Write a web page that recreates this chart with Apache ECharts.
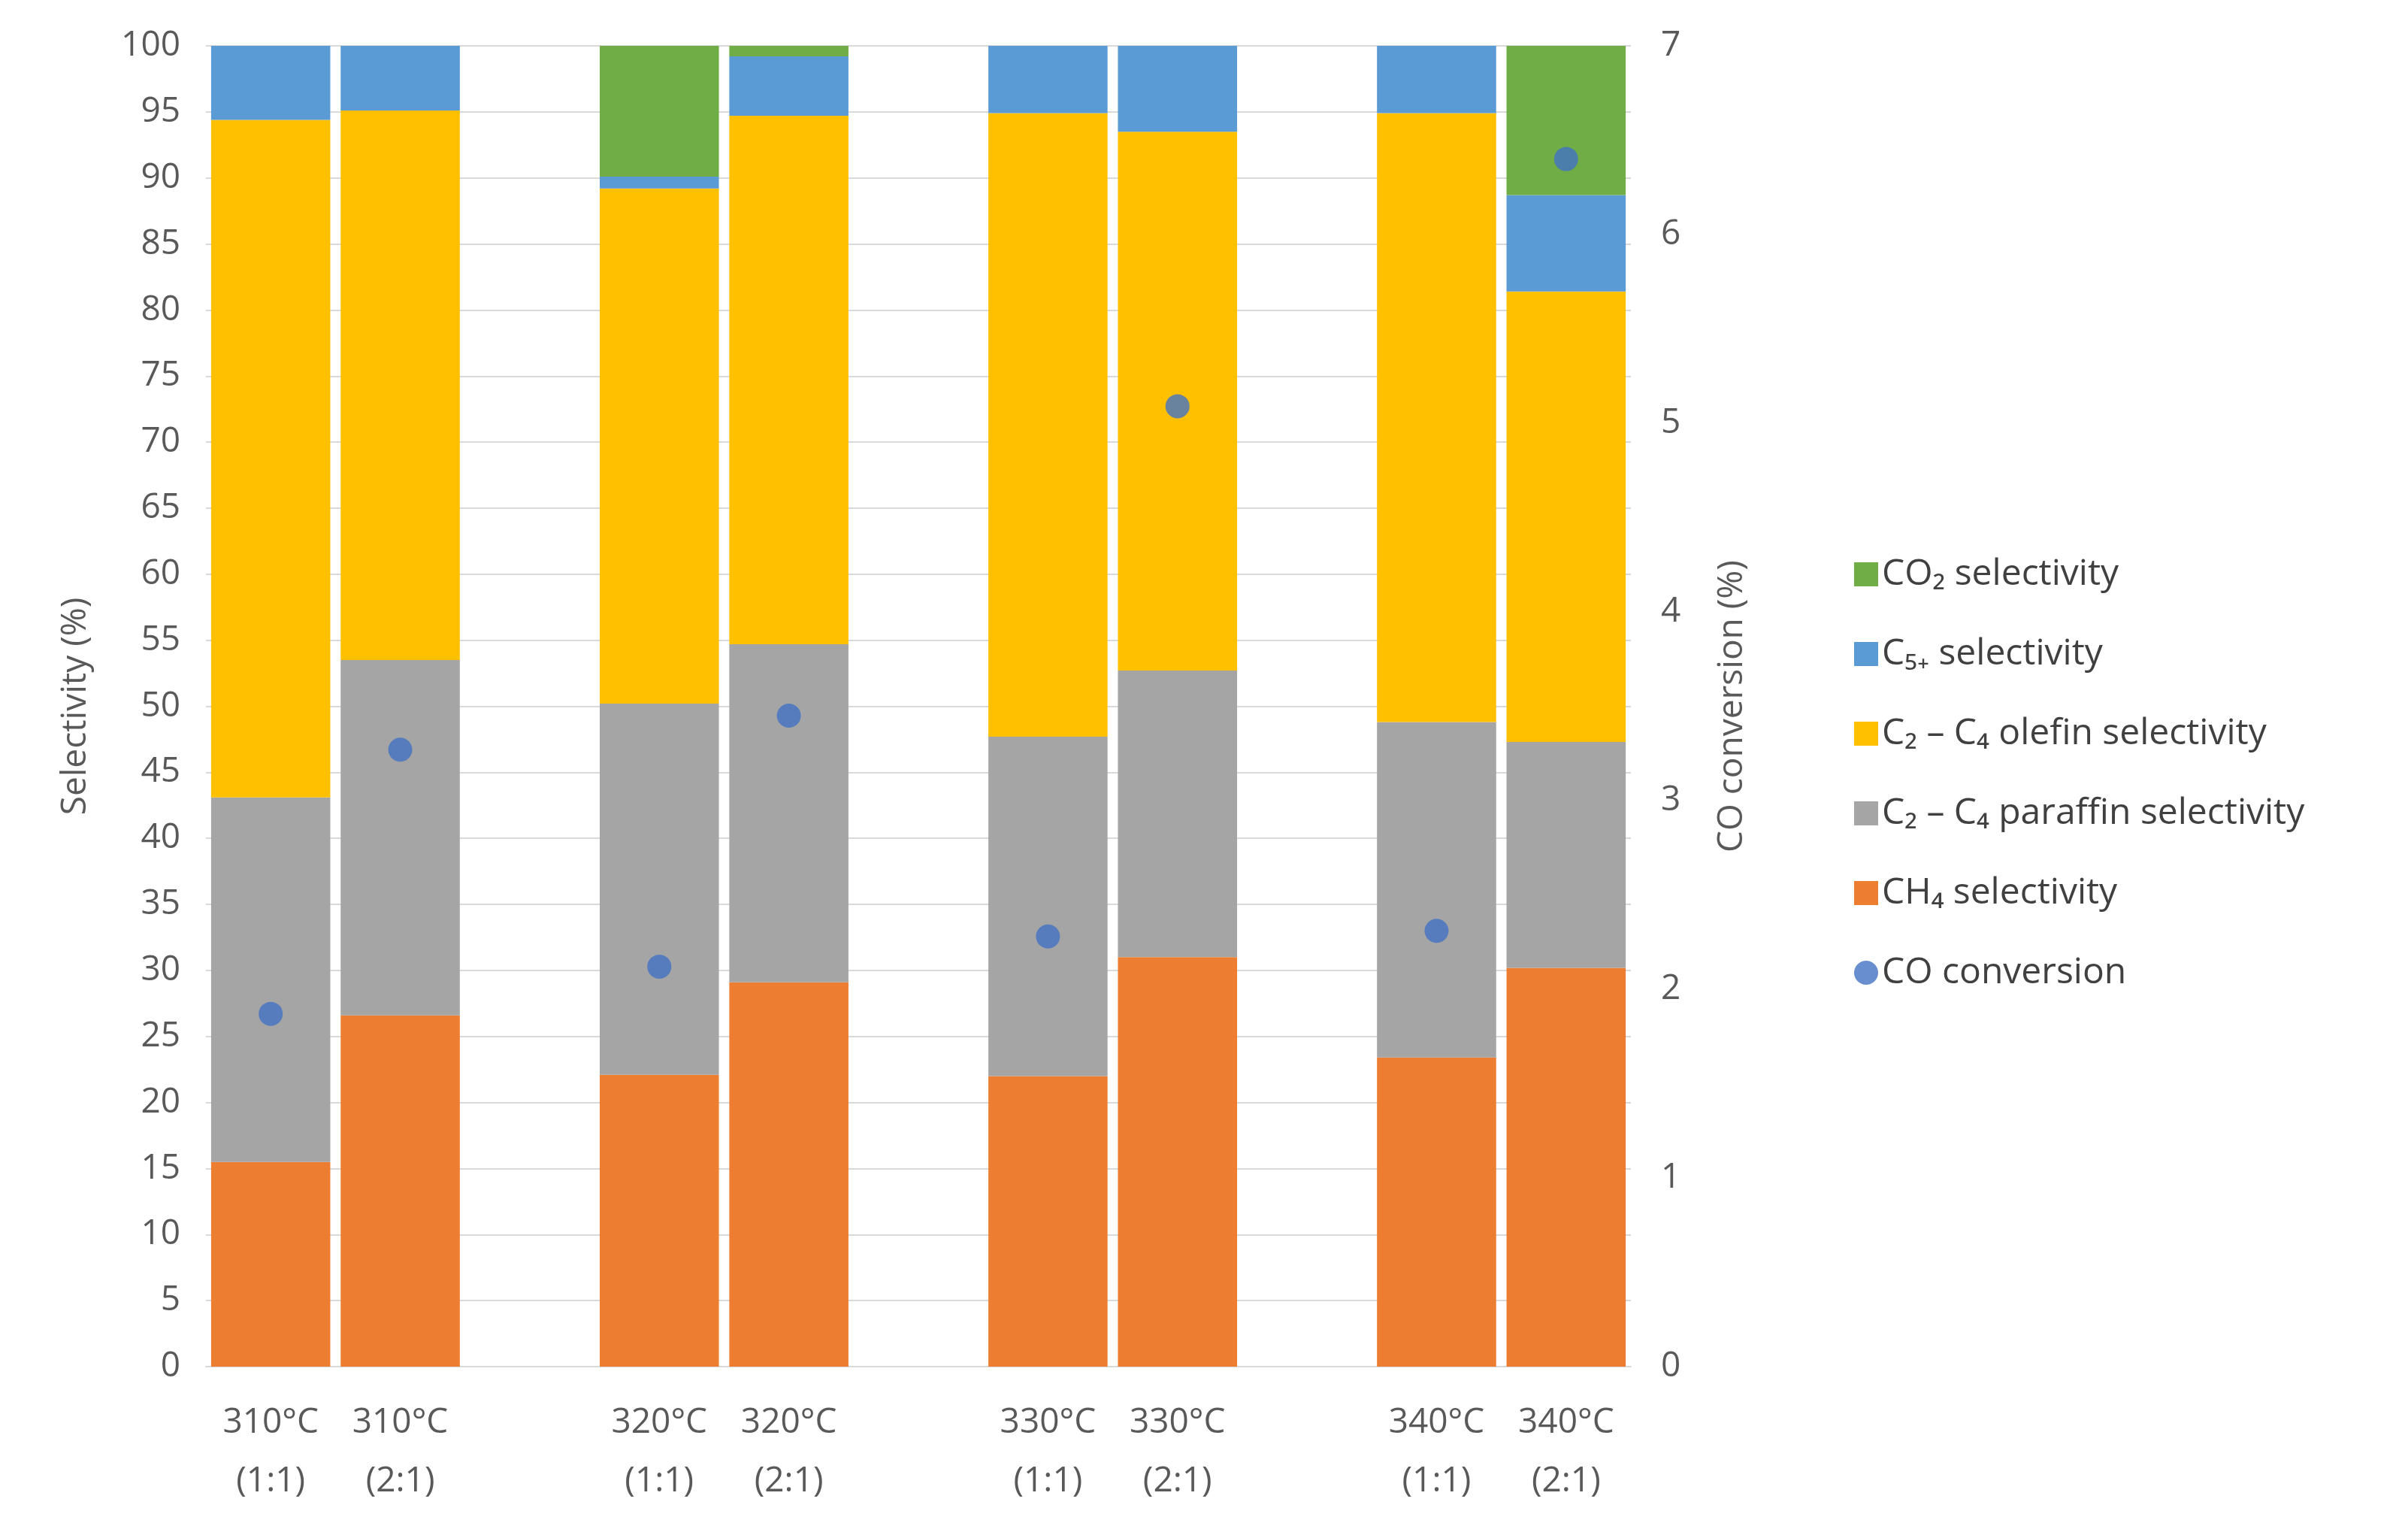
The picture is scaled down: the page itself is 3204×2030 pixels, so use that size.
<!DOCTYPE html>
<html>
<head>
<meta charset="utf-8">
<script src="https://cdn.jsdelivr.net/npm/echarts@6/dist/echarts.min.js"></script>
<style>html,body{margin:0;padding:0;background:#fff}#main{width:3204px;height:2030px}</style>
</head>
<body>
<div id="main"></div>
<script>
// categories, empty strings are the gaps between temperature groups
var categories = ['310°C\n(1:1)', '310°C\n(2:1)', '', '320°C\n(1:1)', '320°C\n(2:1)', '', '330°C\n(1:1)', '330°C\n(2:1)', '', '340°C\n(1:1)', '340°C\n(2:1)'];
var ch4 = [15.5, 26.6, null, 22.1, 29.1, null, 22.0, 31.0, null, 23.4, 30.2];
var paraffin = [27.6, 26.9, null, 28.1, 25.6, null, 25.7, 21.7, null, 25.4, 17.1];
var olefin = [51.3, 41.6, null, 39.0, 40.0, null, 47.2, 40.8, null, 46.1, 34.1];
var c5plus = [5.6, 4.9, null, 0.9, 4.5, null, 5.1, 6.5, null, 5.1, 7.3];
var co2 = [0, 0, null, 9.9, 0.8, null, 0, 0, null, 0, 11.3];
var conversion = [1.87, 3.27, null, 2.12, 3.45, null, 2.28, 5.09, null, 2.31, 6.4];
var leftTicks = [0, 100, 5];
var rightTicks = [0, 7, 1];

var chart = echarts.init(document.getElementById('main'));
var font = 'Open Sans, Noto Sans, sans-serif';
function bar(name, data, color) {
  return { name: name, type: 'bar', stack: 'sel', data: data, barWidth: '92%',
    itemStyle: { color: color }, z: 2 };
}
chart.setOption({
  animation: false,
  textStyle: { fontFamily: font },
  grid: { left: 274, right: 1034, top: 61, bottom: 212 },
  legend: {
    orient: 'vertical', left: 2462, top: 735, itemGap: 58, itemWidth: 32, itemHeight: 32,
    textStyle: { fontSize: 48, color: '#404040', fontFamily: font },
    data: [
      { name: 'CO₂ selectivity', icon: 'rect' },
      { name: 'C₅₊ selectivity', icon: 'rect' },
      { name: 'C₂ – C₄ olefin selectivity', icon: 'rect' },
      { name: 'C₂ – C₄ paraffin selectivity', icon: 'rect' },
      { name: 'CH₄ selectivity', icon: 'rect' },
      { name: 'CO conversion', icon: 'circle' }
    ]
  },
  xAxis: {
    type: 'category', data: categories,
    axisTick: { show: false },
    axisLine: { lineStyle: { color: '#d9d9d9', width: 2 } },
    axisLabel: { fontSize: 46, color: '#595959', lineHeight: 78, margin: 36, interval: 0 }
  },
  yAxis: [{
    type: 'value', min: leftTicks[0], max: leftTicks[1], interval: leftTicks[2],
    name: 'Selectivity (%)', nameLocation: 'middle', nameGap: 150,
    nameTextStyle: { fontSize: 46, color: '#595959' },
    axisLabel: { fontSize: 46, color: '#595959', margin: 34 },
    splitLine: { lineStyle: { color: '#d9d9d9', width: 2 } },
    axisLine: { show: false }, axisTick: { show: false }
  }, {
    type: 'value', min: rightTicks[0], max: rightTicks[1], interval: rightTicks[2],
    name: 'CO conversion (%)', nameLocation: 'middle', nameGap: 112,
    nameTextStyle: { fontSize: 46, color: '#595959' },
    axisLabel: { fontSize: 46, color: '#595959', margin: 40 },
    splitLine: { show: false }, axisLine: { show: false }, axisTick: { show: false }
  }],
  series: [
    bar('CH₄ selectivity', ch4, '#ED7D31'),
    bar('C₂ – C₄ paraffin selectivity', paraffin, '#A5A5A5'),
    bar('C₂ – C₄ olefin selectivity', olefin, '#FFC000'),
    bar('C₅₊ selectivity', c5plus, '#5B9BD5'),
    bar('CO₂ selectivity', co2, '#70AD47'),
    { name: 'CO conversion', type: 'scatter', yAxisIndex: 1, data: conversion,
      symbolSize: 32, itemStyle: { color: '#4472C4' }, z: 5 }
  ]
});
</script>
</body>
</html>
